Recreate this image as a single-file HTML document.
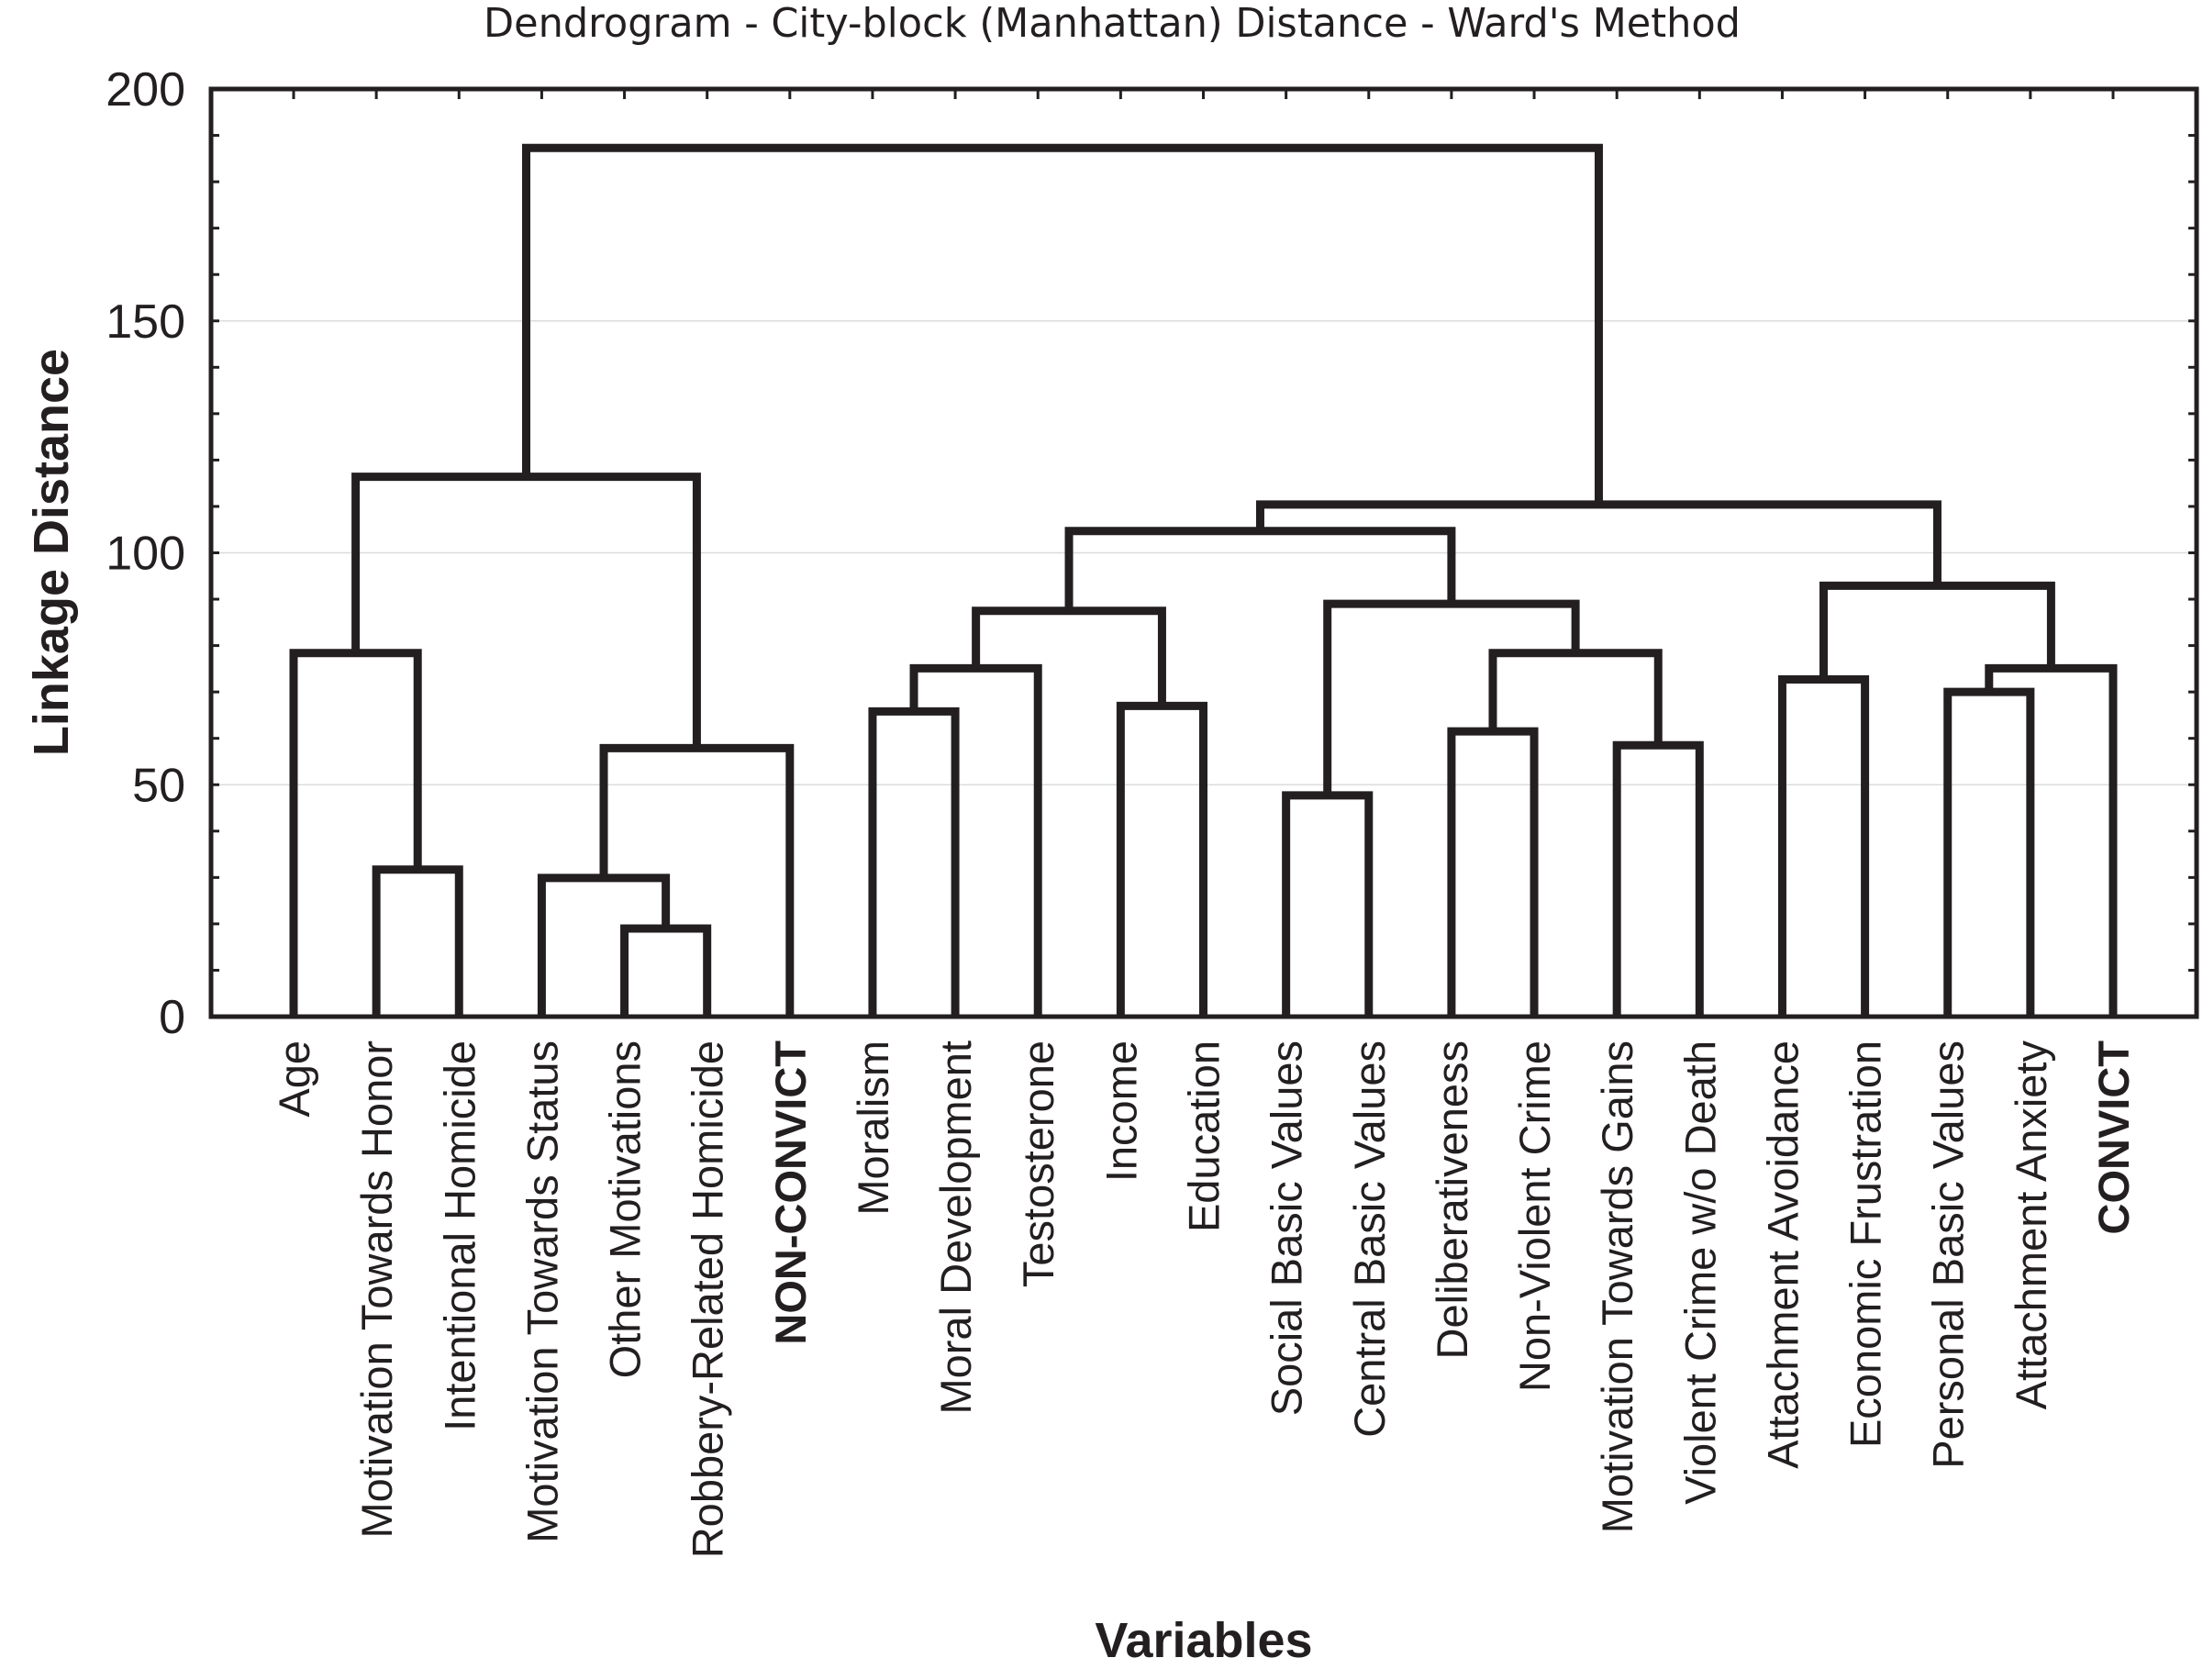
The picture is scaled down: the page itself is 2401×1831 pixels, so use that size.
<!DOCTYPE html>
<html><head><meta charset="utf-8"><style>
body{margin:0;background:#fff}
svg{display:block}
text{font-family:"Liberation Sans",sans-serif;fill:#231f20}
</style></head><body>
<svg id="chart" width="2401" height="1831" viewBox="0 0 2401 1831" xmlns="http://www.w3.org/2000/svg">
<text x="1212" y="40" font-size="44" text-anchor="middle" style="font-family:'DejaVu Sans','Liberation Sans',sans-serif" textLength="1370" lengthAdjust="spacingAndGlyphs">Dendrogram - City-block (Manhattan) Distance - Ward's Method</text>
<text transform="translate(74,602) rotate(-90)" font-size="54" font-weight="bold" text-anchor="middle">Linkage Distance</text>
<text x="1312" y="1806" font-size="54" font-weight="bold" text-anchor="middle">Variables</text>
<g id="grid"></g><g id="ticks"></g><g id="marks"></g><g id="labels"></g>
<rect x="230" y="97" width="2164" height="1011" fill="none" stroke="#231f20" stroke-width="5"/>
</svg>
<script>
const leaves = ["Age","Motivation Towards Honor","Intentional Homicide","Motivation Towards Status","Other Motivations","Robbery-Related Homicide","NON-CONVICT","Moralism","Moral Development","Testosterone","Income","Education","Social Basic Values","Central Basic Values","Deliberativeness","Non-Violent Crime","Motivation Towards Gains","Violent Crime w/o Death","Attachment Avoidance","Economic Frustration","Personal Basic Values","Attachment Anxiety","CONVICT"];
const boldLeaves = ["NON-CONVICT","CONVICT"];
// merges: node ids are leaf index or "m"+mergeIndex
const mergeLeft = [1,4,3,0,"m2",7,"m5",10,"m6",12,14,16,"m10",9,18,20,"m15","m14","m8","m18","m3"];
const mergeRight = [2,5,"m1","m0",6,8,9,11,"m7",13,15,17,"m11","m12",19,21,22,"m16","m13","m17","m19"];
const mergeHeight = [31.7,19,29.9,78.4,57.9,65.8,75.1,67,87.5,47.7,61.5,58.5,78.4,89,72.7,70,75.1,92.9,104.7,110.4,187.3];
mergeLeft[13]="m9";
mergeLeft[20]="m20a";
const topLeftHeight = 116.4;
const yTicks = [0,50,100,150,200];

const X0=320, DX=(2303-320)/22, Y0=1108;
const xs = i => X0 + i*DX;
const ys = v => Y0 - (v/200)*1011;
const NS="http://www.w3.org/2000/svg";
function mk(tag, attrs, parent){const e=document.createElementNS(NS,tag);for(const k in attrs)e.setAttribute(k,attrs[k]);document.getElementById(parent).appendChild(e);return e;}

const nodes = {};
function nodePos(id){ return typeof id==="number" ? {x:xs(id),y:ys(0)} : nodes[id]; }
const order=[0,1,2,3,4,"m20a",5,6,7,8,9,10,11,12,13,14,15,16,17,18,19,20];
for(const k of order){
  let L,R,h,name;
  if(k==="m20a"){L="m3";R="m4";h=topLeftHeight;name="m20a";}
  else {L=mergeLeft[k];R=mergeRight[k];h=mergeHeight[k];name="m"+k;}
  const a=nodePos(L), b=nodePos(R), y=ys(h);
  const p=mk("path",{d:`M${a.x},${a.y}V${y}H${b.x}V${b.y}`,fill:"none",stroke:"#231f20","stroke-width":9,"stroke-linejoin":"miter"},"marks");
  
  
  nodes[name]={x:(a.x+b.x)/2,y:y};
}
for(const t of yTicks){
  const y=ys(t);
  if(t>0&&t<200){const g=mk("line",{x1:230,x2:2394,y1:y,y2:y,stroke:"#dcdcdc","stroke-width":1.5},"grid");
  
  }
  const tx=mk("text",{x:202,y:y+18,"font-size":52,"text-anchor":"end"},"labels");
  tx.textContent=t;
  
  
}
for(let v=0;v<=200;v+=10){
  const y=ys(v);
  mk("line",{x1:230,x2:239,y1:y,y2:y,stroke:"#231f20","stroke-width":3},"ticks");
  mk("line",{x1:2385,x2:2394,y1:y,y2:y,stroke:"#231f20","stroke-width":3},"ticks");
}
leaves.forEach((name,i)=>{
  const x=xs(i);
  mk("line",{x1:x,x2:x,y1:97,y2:108,stroke:"#231f20","stroke-width":3},"ticks");
  const t=mk("text",{transform:`translate(${x+17},1134) rotate(-90)`,"font-size":47,"text-anchor":"end","font-weight":boldLeaves.includes(name)?"bold":"normal"},"labels");
  t.textContent=name;
  
  
});
</script>
</body></html>
